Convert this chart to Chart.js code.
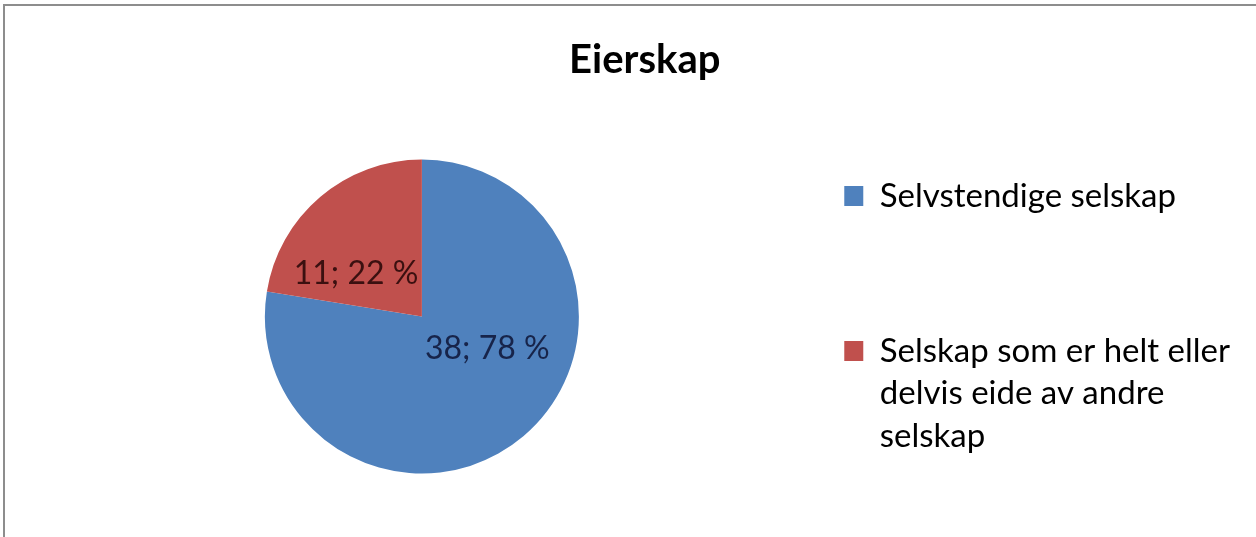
<!DOCTYPE html>
<html>
<head>
<meta charset="utf-8">
<script src="https://cdn.jsdelivr.net/npm/chart.js@4"></script>
<style>
    html, body { margin: 0; padding: 0; background: #fff; overflow: hidden; }
    #wrap { position: relative; width: 1256px; height: 537px; }
    #frame { position: absolute; left: 3px; top: 4px; width: 1300px; height: 600px;
             border: 2px solid #8d8d8d; pointer-events: none; }
</style>
</head>
<body>
<div id="wrap">
    <canvas id="ownerChart"></canvas>
    <div id="frame"></div>
</div>
<script>
// Eierskap-data
const labels = ['Selvstendige selskap', 'Selskap som er helt eller delvis eide av andre selskap'];
const counts = [38, 11];
const colors = ['#4f81bd', '#c0504d'];
const labelColors = ['#17244a', '#3b1010'];
// legendetekst slik den brytes i originalen (tom linje = luft mellom elementene)
const legendLines = [
    ['Selvstendige selskap', ''],
    ['Selskap som er helt eller', 'delvis eide av andre', 'selskap']
];

// etiketter "antall; prosent" inne i sektorene
const sliceLabels = {
    id: 'sliceLabels',
    afterDatasetsDraw(chart, args, opts) {
        const ctx = chart.ctx;
        const meta = chart.getDatasetMeta(0);
        const data = chart.data.datasets[0].data;
        const total = data.reduce((a, b) => a + b, 0);
        ctx.save();
        ctx.font = '32px Lato';
        ctx.textAlign = 'center';
        ctx.textBaseline = 'middle';
        meta.data.forEach((arc, i) => {
            const p = arc.getProps(['x', 'y', 'startAngle', 'endAngle', 'outerRadius'], true);
            const a = p.startAngle + opts.angleFrac[i] * (p.endAngle - p.startAngle);
            const r = opts.radiusFrac[i] * p.outerRadius;
            const pct = Math.round(data[i] / total * 100);
            ctx.fillStyle = labelColors[i];
            ctx.fillText(`${data[i]}; ${pct} %`, p.x + Math.cos(a) * r, p.y + Math.sin(a) * r);
        });
        ctx.restore();
    }
};

// tittelen står litt til venstre for midten av hele flaten
const titleShift = {
    id: 'titleShift',
    afterLayout(chart, args, opts) {
        const t = chart.titleBlock;
        if (t) {
            t.left += opts.dx;
            t.right += opts.dx;
        }
    }
};

const ctx = document.getElementById('ownerChart').getContext('2d');
new Chart(ctx, {
    type: 'pie',
    data: {
        labels: labels,
        datasets: [{
            data: counts,
            backgroundColor: colors,
            borderWidth: 0,
            radius: 157
        }]
    },
    options: {
        responsive: true,
        maintainAspectRatio: false,
        animation: false,
        layout: {
            padding: { left: 69.5, right: 16, top: 10, bottom: 5 }
        },
        plugins: {
            title: {
                display: true,
                text: 'Eierskap',
                color: '#000',
                font: { family: 'Lato', size: 40, weight: 'bold', lineHeight: 1.2 },
                padding: { top: 26, bottom: 17 }
            },
            legend: {
                position: 'right',
                align: 'end',
                labels: {
                    color: '#1a1a1a',
                    boxWidth: 19,
                    boxHeight: 20,
                    padding: 70,
                    font: { family: 'Lato', size: 33, lineHeight: '42.5px' },
                    generateLabels: function(chart) {
                        return chart.data.labels.map((l, i) => ({
                            text: legendLines[i],
                            fillStyle: colors[i],
                            strokeStyle: colors[i],
                            lineWidth: 0,
                            hidden: false,
                            index: i
                        }));
                    }
                }
            },
            tooltip: { enabled: false },
            titleShift: { dx: -10 },
            sliceLabels: {
                angleFrac: [0.417, 0.295],
                radiusFrac: [0.465, 0.5]
            }
        }
    },
    plugins: [sliceLabels, titleShift]
});
</script>
</body>
</html>
